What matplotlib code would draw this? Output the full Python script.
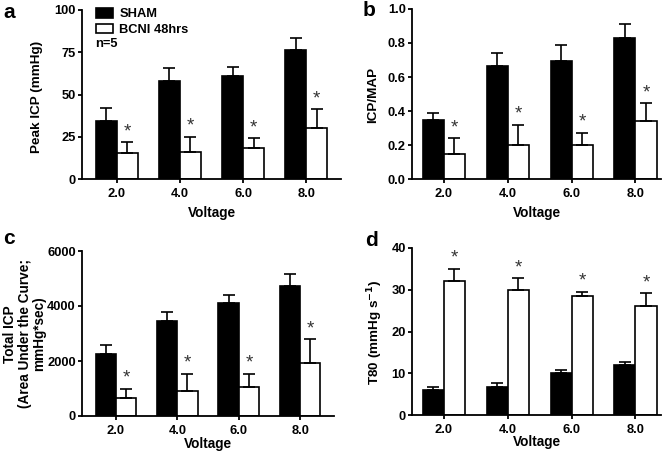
import matplotlib
matplotlib.use("Agg")
import matplotlib.pyplot as plt
import numpy as np
from matplotlib.patches import Patch

plt.rcParams['font.family'] = ['Liberation Sans', 'DejaVu Sans']
plt.rcParams['font.weight'] = 'bold'
plt.rcParams['axes.labelweight'] = 'bold'
plt.rcParams['mathtext.default'] = 'bf'

categories = ["2.0", "4.0", "6.0", "8.0"]
series_names = ["SHAM", "BCNI 48hrs"]

peak_sham = [34.3, 58.2, 61.0, 76.4]
peak_sham_err = [7.5, 7.7, 5.5, 6.9]
peak_bcni = [15.2, 16.2, 18.2, 30.0]
peak_bcni_err = [6.5, 8.8, 5.8, 11.2]

ratio_sham = [0.348, 0.662, 0.697, 0.831]
ratio_sham_err = [0.039, 0.078, 0.089, 0.081]
ratio_bcni = [0.147, 0.198, 0.202, 0.344]
ratio_bcni_err = [0.093, 0.120, 0.069, 0.102]

total_sham = [2264, 3469, 4114, 4735]
total_sham_err = [300, 317, 293, 426]
total_bcni = [645, 925, 1047, 1923]
total_bcni_err = [341, 609, 487, 864]

t80_sham = [6.0, 6.7, 10.1, 12.0]
t80_sham_err = [0.8, 0.9, 0.7, 0.8]
t80_bcni = [32.1, 30.0, 28.5, 26.0]
t80_bcni_err = [2.9, 2.7, 1.0, 3.2]

fig = plt.figure(figsize=(6.69, 4.54), dpi=100)

W, H = 669.0, 454.0
def rect(l, r, t, b):
    return [l / W, (H - b) / H, (r - l) / W, (b - t) / H]

ax_a = fig.add_axes(rect(82, 341, 10, 179))
ax_b = fig.add_axes(rect(412, 661, 9, 179))
ax_c = fig.add_axes(rect(82, 334, 251, 416))
ax_d = fig.add_axes(rect(412, 661, 248, 415))

bw = 0.33

def draw(ax, sham, sham_err, bcni, bcni_err, ylim, yticks, yticklabels,
         xlim=(-0.55, 3.55), xlabelpad=3):
    x = np.arange(len(categories))
    ekw = dict(elinewidth=1.2, capthick=1.2, ecolor='black')
    ax.bar(x - bw / 2, sham, bw, color='black', edgecolor='black', linewidth=1.2,
           yerr=[np.zeros(len(sham)), sham_err], capsize=4.5, error_kw=ekw, zorder=2)
    ax.bar(x + bw / 2, bcni, bw, color='white', edgecolor='black', linewidth=1.2,
           yerr=[np.zeros(len(bcni)), bcni_err], capsize=4.5, error_kw=ekw, zorder=2)
    for i in range(len(categories)):
        top = bcni[i] + bcni_err[i]
        ax.annotate('*', (x[i] + bw / 2, top), xytext=(0, 1.5), textcoords='offset points',
                    ha='center', va='bottom', fontsize=13.5, fontweight='normal', color='#333333')
    ax.set_xlim(*xlim)
    ax.set_ylim(*ylim)
    ax.set_yticks(yticks)
    ax.set_yticklabels(yticklabels, fontsize=9.3, fontweight='bold')
    ax.set_xticks(x)
    ax.set_xticklabels(categories, fontsize=9.3, fontweight='bold')
    ax.set_xlabel('Voltage', fontsize=9.8, fontweight='bold', labelpad=xlabelpad)
    for s in ['top', 'right']:
        ax.spines[s].set_visible(False)
    for s in ['left', 'bottom']:
        ax.spines[s].set_linewidth(1.3)
    ax.tick_params(axis='y', direction='out', length=3, width=1.3, pad=1.5)
    ax.tick_params(axis='x', direction='out', length=3, width=1.3, pad=3.5)

draw(ax_a, peak_sham, peak_sham_err, peak_bcni, peak_bcni_err, (0, 100),
     [0, 25, 50, 75, 100], ['0', '25', '50', '75', '100'], xlabelpad=4)
draw(ax_b, ratio_sham, ratio_sham_err, ratio_bcni, ratio_bcni_err, (0, 1.0),
     [0, 0.2, 0.4, 0.6, 0.8, 1.0], ['0.0', '0.2', '0.4', '0.6', '0.8', '1.0'],
     xlim=(-0.5, 3.4), xlabelpad=4)
draw(ax_c, total_sham, total_sham_err, total_bcni, total_bcni_err, (0, 6000),
     [0, 2000, 4000, 6000], ['0', '2000', '4000', '6000'], xlabelpad=0)
draw(ax_d, t80_sham, t80_sham_err, t80_bcni, t80_bcni_err, (0, 40),
     [0, 10, 20, 30, 40], ['0', '10', '20', '30', '40'],
     xlim=(-0.5, 3.4), xlabelpad=-0.5)

# y labels placed at reference positions
fig.text(37 / W, 1 - 97 / H, 'Peak ICP (mmHg)', rotation=90, fontsize=9.7,
         fontweight='bold', ha='center', va='center')
fig.text(373 / W, 1 - 95 / H, 'ICP/MAP', rotation=90, fontsize=9.7,
         fontweight='bold', ha='center', va='center')
fig.text(25 / W, 1 - 334 / H, 'Total ICP\n(Area Under the Curve;\nmmHg*sec)', rotation=90,
         fontsize=9.8, fontweight='bold', ha='center', va='center', multialignment='center',
         linespacing=1.05)
fig.text(375 / W, 1 - 332 / H, r'T80 (mmHg s$^{-1}$)', rotation=90, fontsize=9.7,
         fontweight='bold', ha='center', va='center')

handles = [Patch(facecolor='black', edgecolor='black', linewidth=1.2),
           Patch(facecolor='white', edgecolor='black', linewidth=1.2)]
leg = ax_a.legend(handles, series_names, loc='upper left', bbox_to_anchor=(0.01, 1.08),
                  frameon=False, prop={'weight': 'bold', 'size': 9.3},
                  handlelength=1.3, handleheight=0.75, handletextpad=0.5, labelspacing=0.28)
ax_a.text(0.052, 0.80, 'n=5', transform=ax_a.transAxes, fontsize=9.3, fontweight='bold',
          va='center', ha='left')

fig.text(3 / W, 1 - 12 / H, 'a', fontsize=15, fontweight='bold', va='center')
fig.text(363 / W, 1 - 11 / H, 'b', fontsize=15, fontweight='bold', va='center')
fig.text(3 / W, 1 - 239 / H, 'c', fontsize=15, fontweight='bold', va='center')
fig.text(365 / W, 1 - 241 / H, 'd', fontsize=15, fontweight='bold', va='center')

fig.savefig('out.png', dpi=100)
